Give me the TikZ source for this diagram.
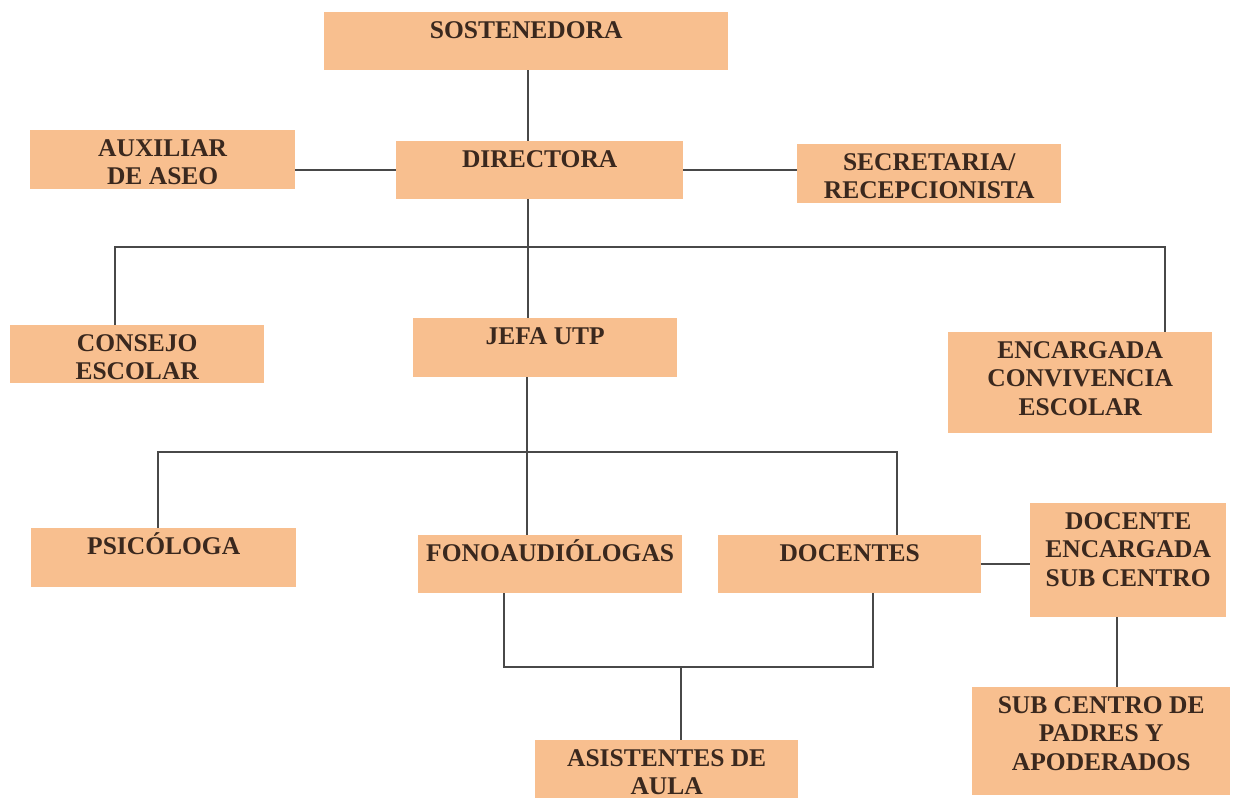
\documentclass[tikz,border=0pt]{standalone}
\usepackage{fontspec}
\setmainfont{Liberation Serif}
\usepackage{tikz}
\definecolor{durazno}{RGB}{248,191,143}
\definecolor{tinta}{RGB}{58,40,30}
\definecolor{trazo}{RGB}{72,72,72}

\begin{document}
\begin{tikzpicture}[x=1pt, y=-1pt,
    cargo/.style 2 args={fill=durazno, text=tinta, inner sep=0pt, anchor=north west,
      execute at begin node={\begin{minipage}[c][#2pt][t]{#1pt}\centering\fontsize{25.5}{28.5}\selectfont\bfseries\rule{0pt}{26pt}},
      execute at end node={\end{minipage}}},
    linea/.style={draw=trazo, line width=2pt}]
    \useasboundingbox (0,0) rectangle (1233,798);

    \node [cargo={404}{58}] (sost) at (324,12) {SOSTENEDORA};
    \node [cargo={265}{59}] (aux) at (30,130) {AUXILIAR\\DE ASEO};
    \node [cargo={287}{58}] (dir) at (396,141) {DIRECTORA};
    \node [cargo={264}{59}] (sec) at (797,144) {SECRETARIA/\\RECEPCIONISTA};
    \node [cargo={254}{58}] (consejo) at (10,325) {CONSEJO\\ESCOLAR};
    \node [cargo={264}{59}] (jefa) at (413,318) {JEFA UTP};
    \node [cargo={264}{101}] (encargada) at (948,332) {ENCARGADA\\CONVIVENCIA\\ESCOLAR};
    \node [cargo={265}{59}] (psico) at (31,528) {PSICÓLOGA};
    \node [cargo={264}{58}] (fono) at (418,535) {FONOAUDIÓLOGAS};
    \node [cargo={263}{58}] (doc) at (718,535) {DOCENTES};
    \node [cargo={196}{114}] (dse) at (1030,503) {DOCENTE\\ENCARGADA\\SUB CENTRO};
    \node [cargo={258}{108}] (padres) at (972,687) {SUB CENTRO DE\\PADRES Y\\APODERADOS};
    \node [cargo={263}{58}] (asist) at (535,740) {ASISTENTES DE\\AULA};

    \coordinate (eje1) at (528,0);
    \coordinate (eje2) at (527,0);
    \coordinate (eje3) at (1117,0);
    \coordinate (ramaA1) at (115,247);
    \coordinate (ramaA2) at (1165,247);
    \coordinate (ramaB1) at (158,452);
    \coordinate (ramaB2) at (897,452);
    \coordinate (pinzaI) at (504,667);
    \coordinate (pinzaD) at (873,667);
    \coordinate (eje4) at (681,667);

    \draw [linea] (eje1 |- sost.south) -- (eje1 |- dir.north);
    \draw [linea] (aux.east |- dir.west) -- (dir.west);
    \draw [linea] (dir.east) -- (dir.east -| sec.west);
    \draw [linea] (eje1 |- dir.south) -- (eje1 |- jefa.north);
    \draw [linea] (consejo.north -| ramaA1) -- (ramaA1) -- (ramaA2) -- (encargada.north -| ramaA2);
    \draw [linea] (eje2 |- jefa.south) -- (eje2 |- fono.north);
    \draw [linea] (psico.north -| ramaB1) -- (ramaB1) -- (ramaB2) -- (doc.north -| ramaB2);
    \draw [linea] (doc.east) -- (doc.east -| dse.west);
    \draw [linea] (eje3 |- dse.south) -- (eje3 |- padres.north);
    \draw [linea] (fono.south -| pinzaI) -- (pinzaI) -- (pinzaD) -- (doc.south -| pinzaD);
    \draw [linea] (eje4) -- (eje4 |- asist.north);

\end{tikzpicture}
\end{document}
